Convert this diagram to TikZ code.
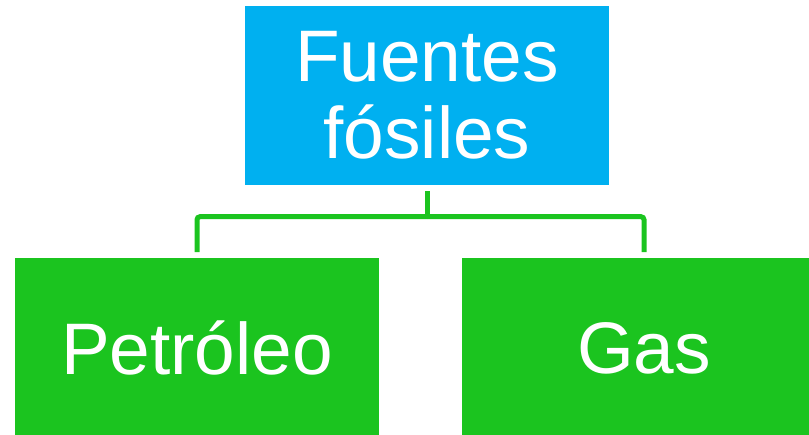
\documentclass[tikz,border=0pt]{standalone}
\usepackage{fontspec}
\setmainfont{Liberation Sans}
\usepackage{xcolor}
\usetikzlibrary{positioning}
\definecolor{fosilblue}{HTML}{00B0F0}
\definecolor{fosilgreen}{HTML}{1BC41F}
\tikzset{
  box/.style={fill=#1, text=white, inner sep=0pt,
    minimum width=364pt, minimum height=179pt,
    align=center, font=\fontsize{73}{77}\selectfont},
  link/.style={draw=fosilgreen, line width=5pt, rounded corners=3pt}
}

\begin{document}
\begin{tikzpicture}
 \useasboundingbox (0,0) rectangle (809pt,434pt);
 \clip (0,0) rectangle (809pt,434pt);
 % Top box
 \node[box=fosilblue] (fuentes) at (427pt,338.5pt) {Fuentes\\fósiles};

 % Children
 \node[box=fosilgreen,
    below=73pt of fuentes,
    xshift=-230pt
    ] (petroleo) {Petróleo};
 \node[box=fosilgreen,
    below=73pt of fuentes,
    xshift=217pt
    ] (gas) {Gas};

 % Connectors
 \draw[link] ([yshift=-6pt]fuentes.south) -- ++(0,-25.5pt) coordinate (split);
 \draw[link] (split) -| ([yshift=6pt]petroleo.north);
 \draw[link] (split) -| ([yshift=6pt]gas.north);
\end{tikzpicture}
\end{document}
